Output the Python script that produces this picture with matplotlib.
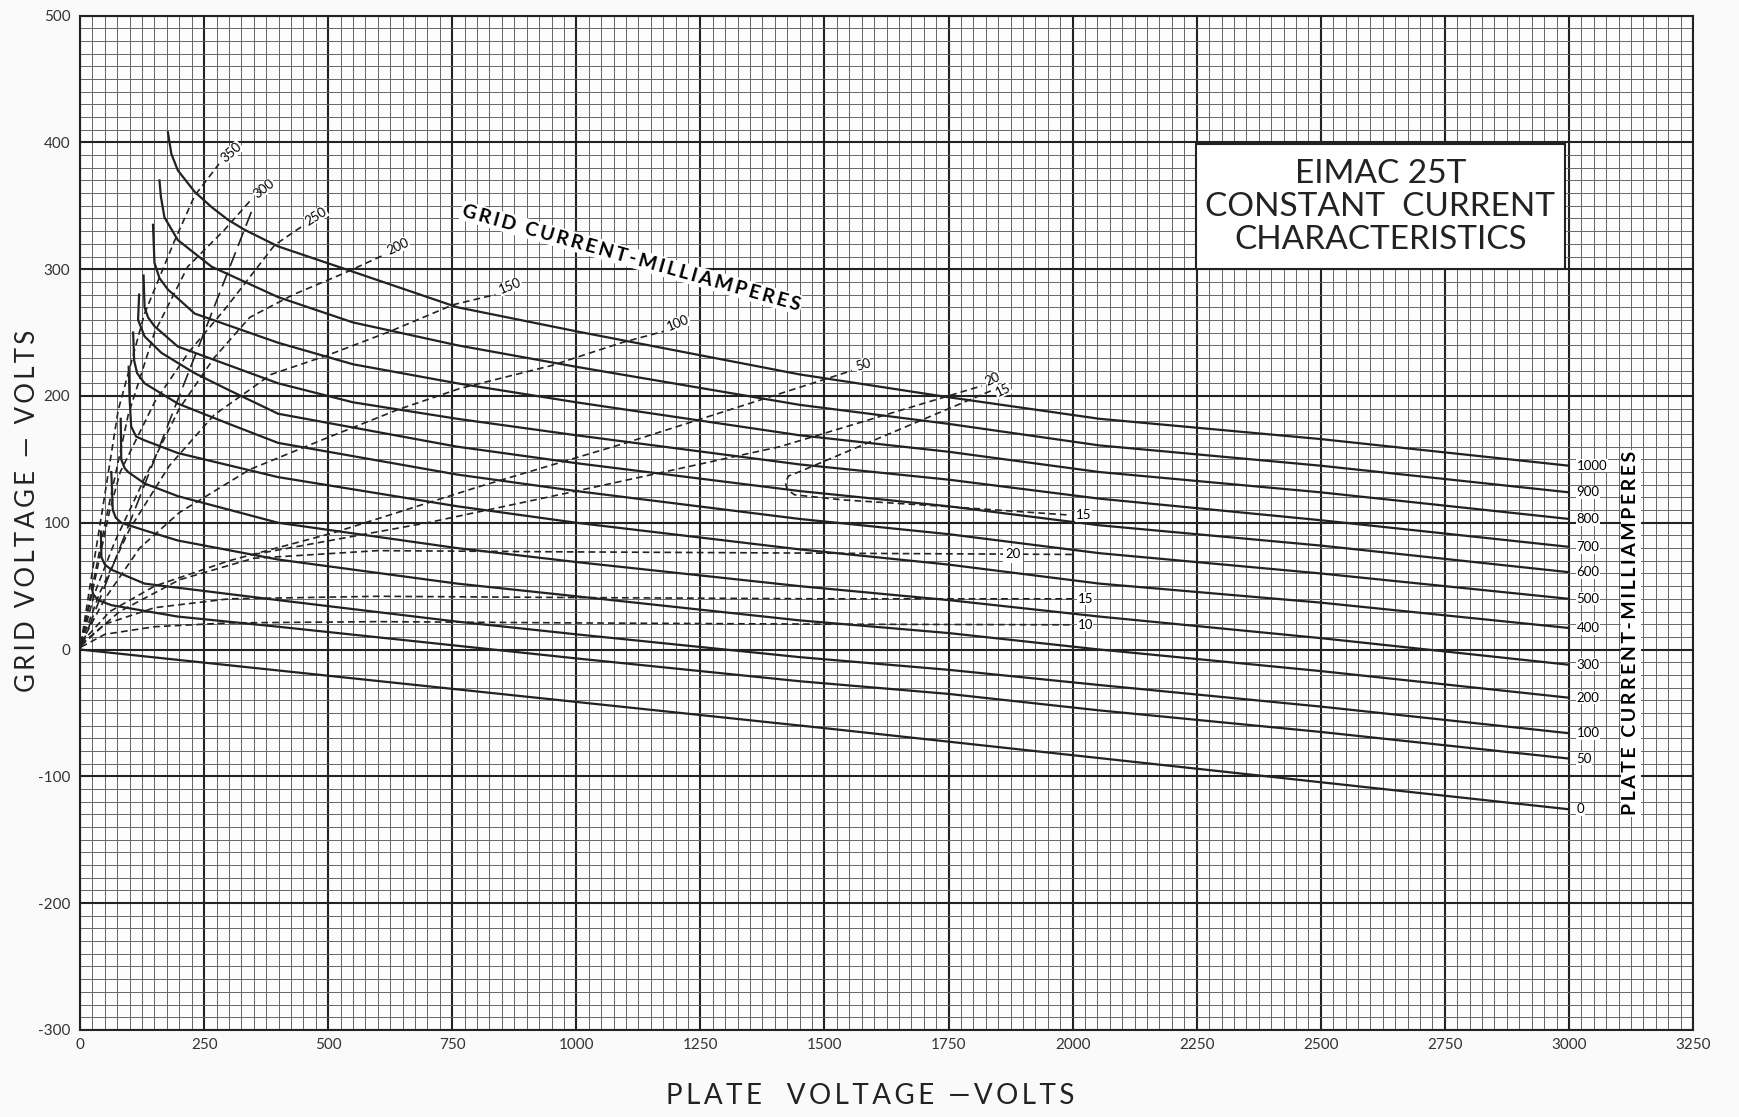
import matplotlib.pyplot as plt
from matplotlib.ticker import MultipleLocator
from matplotlib.patches import Rectangle

# plate current curves (solid), plate volts / grid volts
ep_1000 = [177, 184, 197, 231, 265, 298, 332, 399, 550, 760, 1000, 1450, 1750, 2054, 2500, 3000]
eg_1000 = [408, 391, 378, 361, 349, 339, 331, 318, 298, 270, 251, 217, 199, 182, 166, 145]
ep_900 = [160, 163, 170, 197, 265, 399, 550, 760, 1000, 1450, 1750, 2054, 2500, 3000]
eg_900 = [370, 357, 341, 323, 302, 278, 258, 240, 223, 193, 178, 161, 145, 124]
ep_800 = [147, 150, 160, 177, 231, 399, 550, 760, 1000, 1450, 1750, 2054, 2500, 3000]
eg_800 = [335, 305, 293, 284, 265, 242, 225, 210, 195, 169, 156, 140, 124, 103]
ep_700 = [128, 130, 137, 150, 197, 399, 550, 760, 1000, 1450, 1750, 2054, 2500, 3000]
eg_700 = [295, 270, 262, 255, 239, 210, 195, 182, 169, 146, 134, 119, 102, 81]
ep_600 = [119, 117, 130, 164, 231, 298, 399, 760, 1000, 1450, 1750, 2054, 2500, 3000]
eg_600 = [280, 260, 247, 234, 218, 205, 186, 160, 147, 125, 113, 98, 82, 61]
ep_500 = [107, 109, 115, 130, 197, 300, 399, 760, 1000, 1450, 1750, 2054, 2500, 3000]
eg_500 = [250, 228, 218, 210, 194, 178, 163, 138, 125, 103, 91, 76, 60, 40]
ep_400 = [98, 100, 103, 113, 130, 197, 399, 760, 1000, 1450, 1750, 2054, 2500, 3000]
eg_400 = [223, 197, 176, 168, 165, 155, 136, 113, 100, 79, 67, 52, 37, 17]
ep_300 = [82, 83, 90, 97, 130, 197, 399, 760, 1000, 1450, 1750, 2054, 2500, 3000]
eg_300 = [182, 150, 143, 140, 131, 121, 100, 80, 69, 50, 39, 26, 9, -12]
ep_200 = [63, 66, 72, 83, 130, 197, 399, 760, 1000, 1450, 1750, 2054, 2500, 3000]
eg_200 = [140, 110, 104, 100, 94, 86, 71, 52, 42, 23, 13, 0, -17, -38]
ep_100 = [42, 43, 50, 63, 130, 399, 760, 1000, 1450, 1750, 2054, 2500, 3000]
eg_100 = [93, 73, 67, 63, 52, 39, 22, 12, -6, -16, -28, -45, -66]
ep_50 = [23, 26, 36, 63, 197, 399, 760, 1000, 1450, 1750, 2054, 2500, 3000]
eg_50 = [51, 44, 39, 35, 26, 18, 3, -7, -25, -35, -48, -65, -86]
ep_0 = [0, 1500, 3000]
eg_0 = [0, -62, -126]

plate_ma = ['1000', '900', '800', '700', '600', '500', '400', '300', '200', '100', '50', '0']

# grid current curves (dashed)
gx_350 = [2, 20, 45, 77, 130, 190, 231, 280]
gy_350 = [5, 50, 110, 189, 265, 322, 358, 383]
gx_300 = [2, 25, 56, 97, 150, 217, 291, 345]
gy_300 = [5, 50, 110, 185, 250, 302, 331, 355]
gx_250 = [2, 30, 60, 81, 150, 220, 295, 392, 448]
gy_250 = [5, 55, 110, 140, 195, 235, 270, 319, 334]
gx_200 = [2, 30, 70, 130, 200, 270, 342, 430, 533, 611]
gy_200 = [5, 45, 85, 135, 190, 230, 262, 280, 297, 311]
gx_150 = [2, 40, 100, 180, 270, 342, 385, 498, 625, 752, 837]
gy_150 = [5, 45, 95, 145, 185, 205, 217, 232, 251, 272, 280]
gx_100 = [2, 50, 120, 200, 342, 498, 639, 766, 950, 1091, 1176]
gy_100 = [5, 40, 80, 108, 142, 167, 189, 206, 224, 242, 251]
gx_50 = [2, 60, 150, 300, 510, 800, 1100, 1300, 1555]
gy_50 = [5, 30, 50, 70, 92, 128, 163, 188, 220]
gx_20a = [350, 700, 1000, 1410, 1817]
gy_20a = [75, 100, 125, 160, 208]
gx_20b = [2, 80, 200, 350, 600, 1000, 1500, 2000]
gy_20b = [4, 30, 55, 72, 78, 77, 76, 75]
gx_15a = [1835, 1448, 1428, 1421, 1425, 1440, 1538, 1739, 1996]
gy_15a = [204, 140, 137, 132, 126, 122, 118, 113, 106]
gx_15b = [2, 50, 150, 300, 600, 1000, 1500, 2000]
gy_15b = [3, 20, 33, 40, 42, 41, 40, 40]
gx_10 = [2, 50, 150, 300, 600, 1000, 1500, 2000]
gy_10 = [2, 12, 18, 21, 22, 21, 20, 19.5]

# plate volts = grid volts line
eq_x = [0, 350]
eq_y = [0, 350]


def spaced(s):
    return '\u2009'.join(s)


plt.rcParams['font.family'] = ['Lato', 'DejaVu Sans']
plt.rcParams['axes.unicode_minus'] = False
fig = plt.figure(figsize=(17.4, 11.17), dpi=100)
fig.patch.set_facecolor('#fafafa')
ax = fig.add_axes([0.046, 0.078, 0.927, 0.908])
ax.set_facecolor('#fdfdfd')
ax.set_xlim(0, 3250)
ax.set_ylim(-300, 500)
ax.xaxis.set_major_locator(MultipleLocator(250))
ax.xaxis.set_minor_locator(MultipleLocator(25))
ax.yaxis.set_major_locator(MultipleLocator(100))
ax.yaxis.set_minor_locator(MultipleLocator(10))
ax.grid(which='minor', color='#666666', lw=0.7)
ax.grid(which='major', color='#222222', lw=1.5)
ax.set_axisbelow(True)
ax.tick_params(which='both', length=0)
ax.tick_params(labelsize=11, colors='#333333')
ax.tick_params(axis='x', pad=6)
ax.tick_params(axis='y', pad=7)
for s in ax.spines.values():
    s.set_linewidth(1.5)
    s.set_color('#222222')

solid = [(ep_1000, eg_1000), (ep_900, eg_900), (ep_800, eg_800), (ep_700, eg_700),
         (ep_600, eg_600), (ep_500, eg_500), (ep_400, eg_400), (ep_300, eg_300),
         (ep_200, eg_200), (ep_100, eg_100), (ep_50, eg_50), (ep_0, eg_0)]
for (x, y), lab in zip(solid, plate_ma):
    ax.plot(x, y, color='#222222', lw=1.6, zorder=3)
    ax.text(x[-1] + 15, y[-1], lab, fontsize=9.5, va='center', ha='left', zorder=6,
            bbox=dict(facecolor='white', edgecolor='none', pad=0.5))

dashed = [(gx_350, gy_350), (gx_300, gy_300), (gx_250, gy_250), (gx_200, gy_200),
          (gx_150, gy_150), (gx_100, gy_100), (gx_50, gy_50), (gx_20a, gy_20a),
          (gx_20b, gy_20b), (gx_15a, gy_15a), (gx_15b, gy_15b), (gx_10, gy_10)]
for x, y in dashed:
    ax.plot(x, y, color='#222222', lw=1.2, dashes=(4, 2.5), zorder=3)
ax.plot(eq_x, eq_y, color='#222222', lw=1.2, dashes=(9, 4), zorder=3)

# labels at the ends of the grid current curves
top_labels = [('350', gx_350, gy_350, 42), ('300', gx_300, gy_300, 38), ('250', gx_250, gy_250, 32),
              ('200', gx_200, gy_200, 25), ('150', gx_150, gy_150, 22), ('100', gx_100, gy_100, 22),
              ('50', gx_50, gy_50, 18), ('20', gx_20a, gy_20a, 25)]
for lab, x, y, rot in top_labels:
    ax.text(x[-1] + 8, y[-1] + 3, lab, fontsize=9.5, rotation=rot, ha='left', va='center',
            rotation_mode='anchor', zorder=6,
            bbox=dict(facecolor='white', edgecolor='none', pad=0.3))
ax.text(gx_15a[0] + 10, gy_15a[0] - 2, '15', fontsize=9.5, rotation=25, ha='left', va='center',
        rotation_mode='anchor', zorder=6, bbox=dict(facecolor='white', edgecolor='none', pad=0.3))
for lab, x, y in [('15', gx_15a, gy_15a), ('15', gx_15b, gy_15b), ('10', gx_10, gy_10)]:
    ax.text(x[-1] + 10, y[-1], lab, fontsize=9.5, ha='left', va='center', zorder=6,
            bbox=dict(facecolor='white', edgecolor='none', pad=0.3))
ax.text(1880, gy_20b[-1], '20', fontsize=9.5, ha='center', va='center', zorder=6,
        bbox=dict(facecolor='white', edgecolor='none', pad=1.5))

ax.text(1111, 309, spaced('GRID CURRENT-MILLIAMPERES'), fontsize=14, fontweight='bold',
        rotation=-15.7, ha='center', va='center', zorder=6,
        bbox=dict(facecolor='white', edgecolor='none', pad=1))
ax.text(3125, 13, spaced('PLATE CURRENT-MILLIAMPERES'), fontsize=14, fontweight='bold',
        rotation=90, ha='center', va='center', zorder=6,
        bbox=dict(facecolor='white', edgecolor='none', pad=1))

ax.add_patch(Rectangle((2248, 300), 745, 99, facecolor='white', edgecolor='#222222', lw=1.5, zorder=5))
for txt, yy in [('EIMAC 25T', 375), ('CONSTANT  CURRENT', 349), ('CHARACTERISTICS', 323)]:
    ax.text(2620, yy, txt, fontsize=24, fontweight='normal', ha='center', va='center',
            zorder=6, color='#222222')

fig.text(0.016, 0.543, spaced('GRID VOLTAGE — VOLTS'), fontsize=18.5, rotation=90,
         ha='center', va='center', color='#222222')
fig.text(0.5, 0.019, spaced('PLATE  VOLTAGE —VOLTS'), fontsize=20, ha='center', va='center',
         color='#222222')

fig.savefig('out.png', dpi=100)
